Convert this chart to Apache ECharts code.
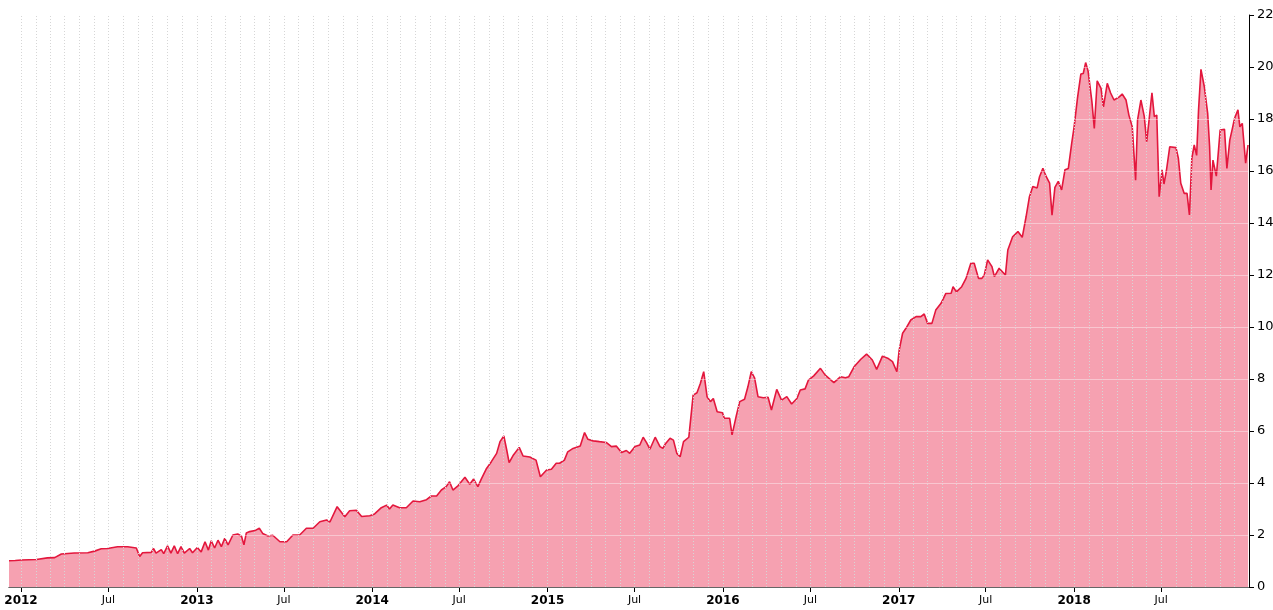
<!DOCTYPE html>
<html>
<head>
<meta charset="utf-8">
<title>chart</title>
<script src="https://cdn.jsdelivr.net/npm/echarts@6/dist/echarts.min.js"></script>
<style>
  html, body { margin: 0; padding: 0; background: #fff; }
  #main { width: 1273px; height: 610px; }
</style>
</head>
<body>
<div id="main"></div>
<script>
// values, [date, value]
var y2011 = [['2011-12-07', 1.01], ['2011-12-20', 1.02]];
var y2012 = [
  ['2012-01-02', 1.04], ['2012-02-02', 1.06], ['2012-02-25', 1.12], ['2012-03-11', 1.13],
  ['2012-03-25', 1.27], ['2012-04-21', 1.31], ['2012-05-19', 1.32], ['2012-06-02', 1.38],
  ['2012-06-16', 1.47], ['2012-06-29', 1.48], ['2012-07-20', 1.55], ['2012-08-10', 1.55],
  ['2012-08-28', 1.50], ['2012-09-04', 1.17], ['2012-09-10', 1.32], ['2012-09-28', 1.33],
  ['2012-10-03', 1.48], ['2012-10-08', 1.30], ['2012-10-19', 1.44], ['2012-10-24', 1.28],
  ['2012-11-01', 1.58], ['2012-11-08', 1.30], ['2012-11-15', 1.58], ['2012-11-22', 1.28],
  ['2012-11-29', 1.55], ['2012-12-06', 1.30], ['2012-12-17', 1.48], ['2012-12-23', 1.32]
];
var y2013 = [
  ['2013-01-02', 1.52], ['2013-01-10', 1.35], ['2013-01-18', 1.74], ['2013-01-25', 1.42],
  ['2013-01-31', 1.78], ['2013-02-07', 1.50], ['2013-02-14', 1.80], ['2013-02-21', 1.55],
  ['2013-02-28', 1.87], ['2013-03-07', 1.62], ['2013-03-17', 2.00], ['2013-03-27', 2.04],
  ['2013-04-04', 1.95], ['2013-04-09', 1.62], ['2013-04-14', 2.08], ['2013-04-21', 2.13],
  ['2013-05-02', 2.17], ['2013-05-11', 2.26], ['2013-05-18', 2.06], ['2013-05-29', 1.96],
  ['2013-06-08', 1.99], ['2013-06-23', 1.74], ['2013-07-07', 1.74], ['2013-07-20', 2.00],
  ['2013-08-03', 2.00], ['2013-08-17', 2.26], ['2013-08-31', 2.26], ['2013-09-14', 2.51],
  ['2013-09-28', 2.58], ['2013-10-05', 2.50], ['2013-10-20', 3.09], ['2013-11-05', 2.70],
  ['2013-11-15', 2.93], ['2013-11-29', 2.95], ['2013-12-10', 2.71], ['2013-12-27', 2.74]
];
var y2014 = [
  ['2014-01-06', 2.81], ['2014-01-20', 3.05], ['2014-01-31', 3.15], ['2014-02-06', 3.00],
  ['2014-02-13', 3.15], ['2014-02-27', 3.05], ['2014-03-13', 3.05], ['2014-03-27', 3.31],
  ['2014-04-10', 3.28], ['2014-04-24', 3.36], ['2014-05-04', 3.50], ['2014-05-15', 3.50],
  ['2014-05-25', 3.73], ['2014-06-04', 3.86], ['2014-06-11', 4.05], ['2014-06-18', 3.73],
  ['2014-06-29', 3.90], ['2014-07-13', 4.22], ['2014-07-23', 3.95], ['2014-07-31', 4.15],
  ['2014-08-09', 3.86], ['2014-08-16', 4.15], ['2014-08-27', 4.56], ['2014-09-06', 4.82],
  ['2014-09-17', 5.14], ['2014-09-24', 5.59], ['2014-10-02', 5.81], ['2014-10-08', 5.27],
  ['2014-10-13', 4.78], ['2014-10-22', 5.08], ['2014-11-03', 5.37], ['2014-11-11', 5.04],
  ['2014-11-25', 5.00], ['2014-12-08', 4.88], ['2014-12-17', 4.24], ['2014-12-30', 4.50]
];
var y2015 = [
  ['2015-01-09', 4.53], ['2015-01-19', 4.76], ['2015-01-26', 4.76], ['2015-02-05', 4.88],
  ['2015-02-12', 5.20], ['2015-02-23', 5.33], ['2015-03-10', 5.42], ['2015-03-19', 5.94],
  ['2015-03-26', 5.68], ['2015-04-06', 5.62], ['2015-04-19', 5.59], ['2015-05-03', 5.56],
  ['2015-05-14', 5.40], ['2015-05-24', 5.42], ['2015-06-04', 5.17], ['2015-06-14', 5.25],
  ['2015-06-21', 5.14], ['2015-07-02', 5.40], ['2015-07-12', 5.46], ['2015-07-19', 5.76],
  ['2015-07-26', 5.55], ['2015-08-02', 5.30], ['2015-08-13', 5.76], ['2015-08-23', 5.40],
  ['2015-08-29', 5.33], ['2015-09-03', 5.50], ['2015-09-13', 5.72], ['2015-09-20', 5.65],
  ['2015-09-27', 5.14], ['2015-10-04', 5.01], ['2015-10-11', 5.59], ['2015-10-22', 5.76],
  ['2015-10-31', 7.38], ['2015-11-08', 7.47], ['2015-11-15', 7.83], ['2015-11-22', 8.28],
  ['2015-11-29', 7.32], ['2015-12-06', 7.13], ['2015-12-12', 7.25], ['2015-12-20', 6.74],
  ['2015-12-31', 6.70]
];
var y2016 = [
  ['2016-01-04', 6.49], ['2016-01-15', 6.49], ['2016-01-20', 5.85], ['2016-01-29', 6.60],
  ['2016-02-05', 7.13], ['2016-02-15', 7.22], ['2016-02-22', 7.70], ['2016-02-29', 8.28],
  ['2016-03-07', 8.03], ['2016-03-14', 7.32], ['2016-03-25', 7.28], ['2016-04-04', 7.30],
  ['2016-04-11', 6.81], ['2016-04-22', 7.60], ['2016-05-02', 7.19], ['2016-05-13', 7.32],
  ['2016-05-23', 7.04], ['2016-06-03', 7.25], ['2016-06-10', 7.58], ['2016-06-20', 7.62],
  ['2016-06-27', 7.96], ['2016-07-08', 8.12], ['2016-07-22', 8.41], ['2016-08-01', 8.15],
  ['2016-08-19', 7.86], ['2016-09-02', 8.09], ['2016-09-12', 8.05], ['2016-09-19', 8.09],
  ['2016-09-30', 8.47], ['2016-10-14', 8.76], ['2016-10-26', 8.96], ['2016-11-07', 8.73],
  ['2016-11-16', 8.37], ['2016-11-28', 8.88], ['2016-12-09', 8.80], ['2016-12-19', 8.67],
  ['2016-12-28', 8.28]
];
var y2017 = [
  ['2017-01-02', 9.12], ['2017-01-09', 9.76], ['2017-01-16', 9.95], ['2017-01-26', 10.27],
  ['2017-02-06', 10.40], ['2017-02-16', 10.40], ['2017-02-23', 10.50], ['2017-03-02', 10.14],
  ['2017-03-11', 10.14], ['2017-03-19', 10.65], ['2017-03-30', 10.91], ['2017-04-09', 11.29],
  ['2017-04-20', 11.30], ['2017-04-24', 11.55], ['2017-05-01', 11.35], ['2017-05-12', 11.55],
  ['2017-05-21', 11.87], ['2017-05-31', 12.45], ['2017-06-07', 12.45], ['2017-06-16', 11.87],
  ['2017-06-23', 11.87], ['2017-06-28', 12.00], ['2017-07-05', 12.58], ['2017-07-14', 12.32],
  ['2017-07-19', 11.94], ['2017-07-29', 12.26], ['2017-08-11', 12.00], ['2017-08-16', 12.96],
  ['2017-08-26', 13.47], ['2017-09-06', 13.67], ['2017-09-15', 13.45], ['2017-09-23', 14.24],
  ['2017-09-30', 15.01], ['2017-10-07', 15.40], ['2017-10-16', 15.35], ['2017-10-21', 15.78],
  ['2017-10-28', 16.10], ['2017-11-04', 15.78], ['2017-11-11', 15.53], ['2017-11-16', 14.30],
  ['2017-11-22', 15.37], ['2017-11-29', 15.60], ['2017-12-06', 15.27], ['2017-12-13', 16.05],
  ['2017-12-20', 16.10], ['2017-12-27', 17.07]
];
var y2018 = [
  ['2018-01-01', 17.70], ['2018-01-08', 18.80], ['2018-01-15', 19.73], ['2018-01-20', 19.75],
  ['2018-01-25', 20.17], ['2018-01-30', 19.85], ['2018-02-03', 19.80], ['2018-02-07', 18.67],
  ['2018-02-12', 17.64], ['2018-02-18', 19.47], ['2018-02-26', 19.18], ['2018-03-03', 18.47],
  ['2018-03-11', 19.37], ['2018-03-18', 19.00], ['2018-03-25', 18.73], ['2018-04-05', 18.85],
  ['2018-04-11', 18.96], ['2018-04-19', 18.73], ['2018-04-25', 18.15], ['2018-05-02', 17.70],
  ['2018-05-09', 15.65], ['2018-05-13', 17.96], ['2018-05-20', 18.73], ['2018-05-27', 18.10],
  ['2018-06-01', 17.13], ['2018-06-06', 17.96], ['2018-06-12', 19.01], ['2018-06-17', 18.09],
  ['2018-06-22', 18.15], ['2018-06-27', 15.01], ['2018-07-03', 16.04], ['2018-07-07', 15.50],
  ['2018-07-12', 16.00], ['2018-07-19', 16.93], ['2018-08-01', 16.90], ['2018-08-06', 16.49],
  ['2018-08-11', 15.53], ['2018-08-18', 15.14], ['2018-08-24', 15.14], ['2018-08-29', 14.31],
  ['2018-09-03', 16.49], ['2018-09-08', 17.00], ['2018-09-13', 16.60], ['2018-09-17', 18.35],
  ['2018-09-22', 19.91], ['2018-09-29', 19.24], ['2018-10-06', 18.22], ['2018-10-10', 16.93],
  ['2018-10-13', 15.27], ['2018-10-17', 16.42], ['2018-10-24', 15.80], ['2018-11-01', 17.58],
  ['2018-11-10', 17.60], ['2018-11-15', 16.10], ['2018-11-21', 17.19], ['2018-11-26', 17.60],
  ['2018-12-01', 18.03], ['2018-12-08', 18.35], ['2018-12-12', 17.70], ['2018-12-17', 17.83],
  ['2018-12-24', 16.30], ['2018-12-29', 17.00]
];

var xStart = '2011-12-07';
var xEnd = '2018-12-31';
var yTicks = [0, 22, 2]; // min, max, step

var chart = echarts.init(document.getElementById('main'));
var DAY = 24 * 3600 * 1000;

var series_data = [].concat(y2011, y2012, y2013, y2014, y2015, y2016, y2017, y2018);

// monthly vertical grid lines (first of every month inside the range)
var monthLines = [];
for (var yr = 2011; yr <= 2018; yr++) {
  for (var m = 1; m <= 12; m++) {
    var ds = yr + '-' + (m < 10 ? '0' + m : m) + '-01';
    if (ds > xStart && ds < xEnd) monthLines.push({ xAxis: ds });
  }
}

var option = {
  animation: false,
  backgroundColor: '#fff',
  textStyle: { fontFamily: 'DejaVu Sans' },
  grid: { left: 9, right: 24, top: 15, bottom: 23, containLabel: false, outerBoundsMode: 'none' },
  xAxis: {
    type: 'time',
    min: xStart,
    max: xEnd,
    minInterval: 182 * DAY,
    maxInterval: 185 * DAY,
    axisLine: { show: true, lineStyle: { color: '#000', width: 1 } },
    axisTick: { show: true, length: 5, lineStyle: { color: '#000' } },
    axisLabel: {
      color: '#000',
      fontSize: 11,
      margin: 8,
      hideOverlap: false,
      formatter: function (val) {
        var d = new Date(val);
        if (d.getMonth() === 0) {
          return '{yr|' + d.getFullYear() + '}';
        }
        return 'Jul';
      },
      rich: {
        yr: { fontWeight: 'bold', fontSize: 12, color: '#000', fontFamily: 'DejaVu Sans' }
      }
    },
    splitLine: { show: false }
  },
  yAxis: {
    type: 'value',
    position: 'right',
    min: yTicks[0],
    max: yTicks[1],
    interval: yTicks[2],
    z: 5,
    axisLine: { show: true, lineStyle: { color: '#000', width: 1 } },
    axisTick: { show: true, length: 5, lineStyle: { color: '#000' } },
    axisLabel: { color: '#000', fontSize: 13, margin: 8 },
    splitLine: { show: true, lineStyle: { color: 'rgba(255,255,255,0.4)', width: 1 } }
  },
  series: [{
    // grid helper, no data
    type: 'line',
    data: [],
    z: 1,
    silent: true,
    markLine: {
      silent: true,
      symbol: ['none', 'none'],
      label: { show: false },
      lineStyle: { color: '#d6d6d6', type: [1, 2], width: 1 },
      emphasis: { disabled: true },
      data: monthLines
    }
  }, {
    type: 'line',
    data: series_data,
    showSymbol: false,
    symbol: 'none',
    z: 2,
    lineStyle: { color: '#e3173d', width: 1.6 },
    itemStyle: { color: '#e3173d' },
    areaStyle: { color: 'rgba(234,32,68,0.42)', opacity: 1, origin: 'start' }
  }]
};

chart.setOption(option);
</script>
</body>
</html>
